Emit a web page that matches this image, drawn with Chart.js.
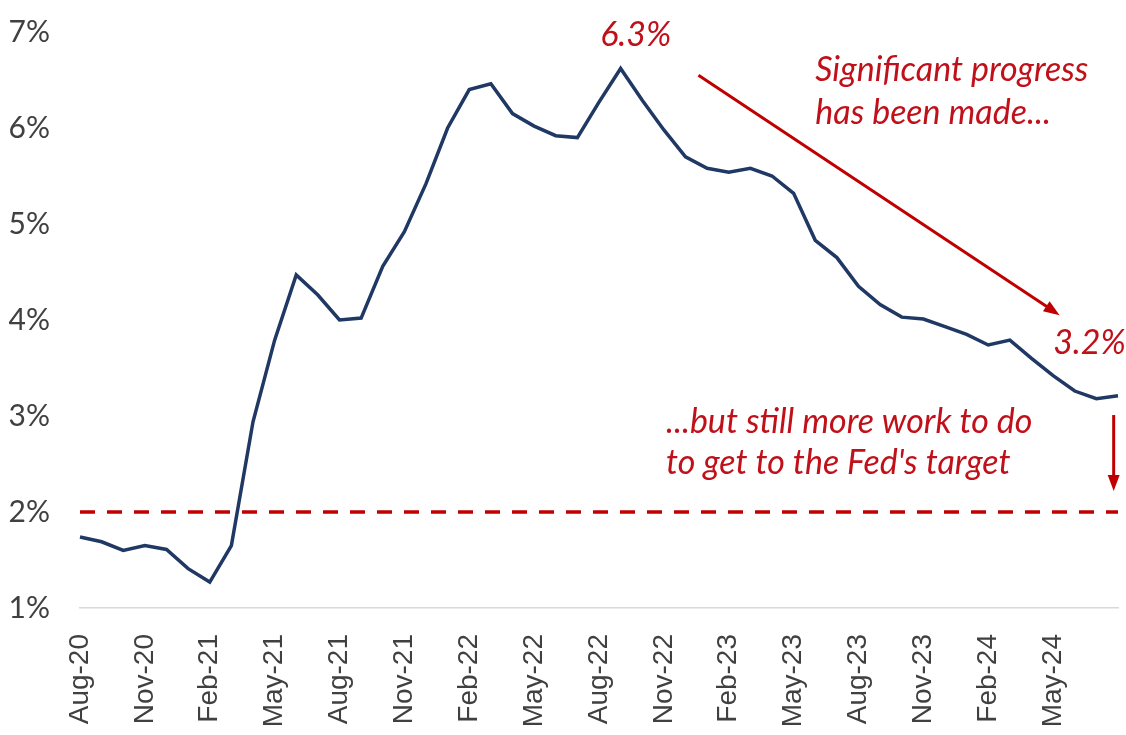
<!DOCTYPE html>
<html>
<head>
<meta charset="utf-8">
<script src="https://cdn.jsdelivr.net/npm/chart.js@4.4.1/dist/chart.umd.min.js"></script>
<style>
  body { margin: 0; background: #fff; }
  #wrap { width: 1126px; height: 735px; position: relative; }
</style>
</head>
<body>
<div id="wrap"><canvas id="cpiChart"></canvas></div>
<script>
let months = [
  "Aug-20","Sep-20","Oct-20","Nov-20","Dec-20","Jan-21","Feb-21","Mar-21","Apr-21","May-21",
  "Jun-21","Jul-21","Aug-21","Sep-21","Oct-21","Nov-21","Dec-21","Jan-22","Feb-22","Mar-22",
  "Apr-22","May-22","Jun-22","Jul-22","Aug-22","Sep-22","Oct-22","Nov-22","Dec-22","Jan-23",
  "Feb-23","Mar-23","Apr-23","May-23","Jun-23","Jul-23","Aug-23","Sep-23","Oct-23","Nov-23",
  "Dec-23","Jan-24","Feb-24","Mar-24","Apr-24","May-24","Jun-24","Jul-24","Aug-24"
];
let coreInflation = [
  1.74, 1.69, 1.60, 1.65, 1.61, 1.41, 1.27, 1.65, 2.94, 3.79,
  4.47, 4.26, 4.00, 4.02, 4.56, 4.92, 5.42, 6.00, 6.40, 6.46,
  6.15, 6.02, 5.92, 5.90, 6.27, 6.62, 6.29, 5.98, 5.70, 5.58,
  5.54, 5.58, 5.50, 5.32, 4.83, 4.65, 4.35, 4.16, 4.03, 4.01,
  3.93, 3.85, 3.74, 3.79, 3.60, 3.42, 3.26, 3.18, 3.21
];
let fedTarget = months.map(() => 2);
let yTicks = [1, 2, 3, 4, 5, 6, 7];

let red = "#c00000";
let navy = "#1f3864";

// notes placed in data units (index on x, percent on y)
let notes = [
  { text: "6.3%", x: 25.7, y: 6.97, align: "center" },
  { text: "Significant progress", x: 34.0, y: 6.60, align: "left" },
  { text: "has been made...", x: 34.0, y: 6.16, align: "left" },
  { text: "3.2%", x: 45.0, y: 3.76, align: "left" },
  { text: "...but still more work to do", x: 27.1, y: 2.94, align: "left" },
  { text: "to get to the Fed's target", x: 27.1, y: 2.51, align: "left" }
];
let arrows = [
  { from: [28.6, 6.55], to: [45.3, 4.05] },
  { from: [47.8, 3.01], to: [47.8, 2.22] }
];

function drawArrow(ctx, x1, y1, x2, y2) {
  let ang = Math.atan2(y2 - y1, x2 - x1);
  let head = 16;
  ctx.beginPath();
  ctx.moveTo(x1, y1);
  ctx.lineTo(x2 - Math.cos(ang) * head * 0.8, y2 - Math.sin(ang) * head * 0.8);
  ctx.stroke();
  ctx.beginPath();
  ctx.moveTo(x2, y2);
  ctx.lineTo(x2 - head * Math.cos(ang) + 6 * Math.sin(ang), y2 - head * Math.sin(ang) - 6 * Math.cos(ang));
  ctx.lineTo(x2 - head * Math.cos(ang) - 6 * Math.sin(ang), y2 - head * Math.sin(ang) + 6 * Math.cos(ang));
  ctx.closePath();
  ctx.fill();
}

const notesPlugin = {
  id: "notes",
  afterDatasetsDraw(chart) {
    const ctx = chart.ctx;
    const xs = chart.scales.x, ys = chart.scales.y;
    ctx.save();
    ctx.strokeStyle = red;
    ctx.fillStyle = red;
    ctx.lineWidth = 3;
    arrows.forEach(a => {
      drawArrow(ctx,
        xs.getPixelForValue(a.from[0]), ys.getPixelForValue(a.from[1]),
        xs.getPixelForValue(a.to[0]), ys.getPixelForValue(a.to[1]));
    });
    ctx.font = "italic 34px Lato";
    ctx.fillStyle = "#c0101a";
    ctx.textBaseline = "middle";
    notes.forEach(n => {
      ctx.textAlign = n.align;
      ctx.fillText(n.text, xs.getPixelForValue(n.x), ys.getPixelForValue(n.y));
    });
    ctx.restore();
  }
};

new Chart(document.getElementById("cpiChart"), {
  type: "line",
  data: {
    labels: months,
    datasets: [
      {
        data: coreInflation,
        borderColor: navy,
        borderWidth: 3.5,
        pointRadius: 0,
        tension: 0
      },
      {
        data: fedTarget,
        borderColor: red,
        borderWidth: 3.5,
        borderDash: [15, 12],
        pointRadius: 0
      }
    ]
  },
  options: {
    responsive: true,
    maintainAspectRatio: false,
    animation: false,
    layout: { padding: { top: 32, right: 8, left: 0, bottom: 0 } },
    plugins: { legend: { display: false }, tooltip: { enabled: false } },
    scales: {
      x: {
        grid: { display: false },
        border: { display: true, color: "#d9d9d9", width: 1.5 },
        ticks: {
          autoSkip: false,
          maxRotation: 90,
          minRotation: 90,
          padding: 18,
          color: "#404040",
          font: { family: "'Liberation Sans', Arial", size: 28 },
          callback: function (v, i) {
            return (i % 3 === 0 && i < 48) ? months[i] : "";
          }
        },
        afterFit: s => { s.height = 127; s.paddingLeft = 0; s.paddingRight = 0; }
      },
      y: {
        min: 1,
        max: 7,
        grid: { display: false },
        border: { display: false },
        afterBuildTicks: s => { s.ticks = yTicks.map(v => ({ value: v })); },
        ticks: {
          padding: 22,
          color: "#404040",
          font: { family: "Lato", size: 30 },
          callback: v => v + "%"
        },
        afterFit: s => { s.width = 80; s.paddingTop = 0; s.paddingBottom = 0; }
      }
    }
  },
  plugins: [notesPlugin]
});
</script>
</body>
</html>
